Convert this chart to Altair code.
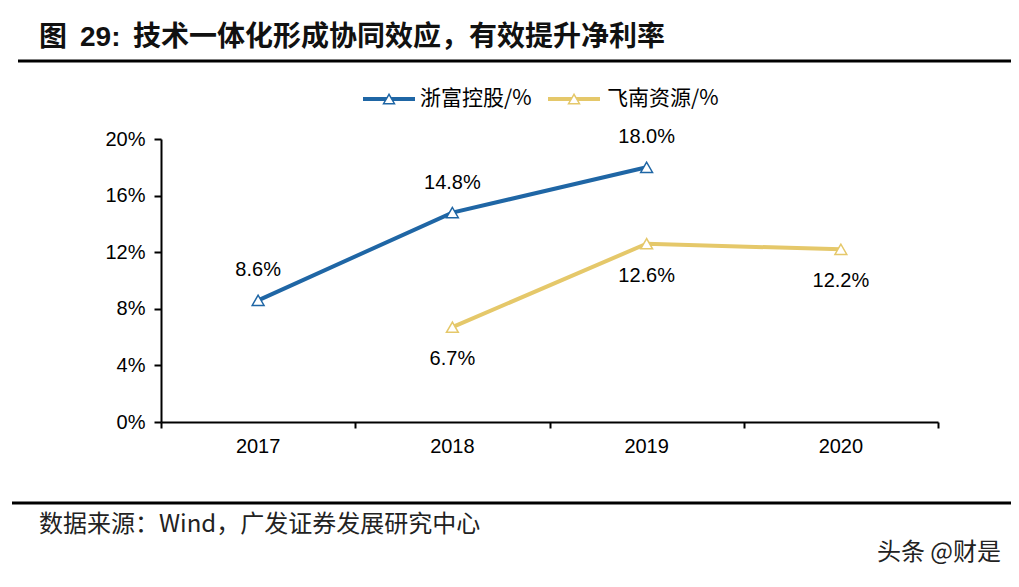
import altair as alt
import pandas as pd

years = [2017, 2018, 2019, 2020]
zhefu = [8.6, 14.8, 18.0, None]
feinan = [None, 6.7, 12.6, 12.2]
series_names = ["浙富控股/%", "飞南资源/%"]
colors = ["#1F66A5", "#E5C86A"]
y_ticks = [0, 4, 8, 12, 16, 20]
x_edges = [2016.5, 2017.5, 2018.5, 2019.5, 2020.5]

W, H = 777, 283
CJK = "Noto Sans CJK SC"
LAT = "Liberation Sans"

rows = []
for s, vals in zip(series_names, [zhefu, feinan]):
    for yr, v in zip(years, vals):
        if v is not None:
            rows.append({"year": yr, "value": v, "series": s, "label": f"{v:.1f}%"})
df = pd.DataFrame(rows)

xs = alt.Scale(domain=[x_edges[0], x_edges[-1]], nice=False, zero=False)
ys = alt.Scale(domain=[0, 20], nice=False)
cs = alt.Scale(domain=series_names, range=colors)

xaxis = alt.Axis(values=x_edges, labels=False, title=None, grid=False, domainColor="black",
                 domainWidth=2, tickColor="black", tickWidth=2, tickSize=6)
yaxis = alt.Axis(values=y_ticks, labelExpr="datum.value + '%'", title=None, grid=False,
                 domainColor="black", domainWidth=2, tickColor="black", tickWidth=2, tickSize=7,
                 labelFont=LAT, labelFontSize=20, labelColor="black", labelPadding=9)

base = alt.Chart(df)

lines = base.mark_line(strokeWidth=4).encode(
    x=alt.X("year:Q", scale=xs, axis=xaxis),
    y=alt.Y("value:Q", scale=ys, axis=yaxis),
    color=alt.Color("series:N", scale=cs, legend=None),
    detail="series:N",
)
points = base.mark_point(shape="triangle-up", filled=True, fill="white", size=140, strokeWidth=1.5, opacity=1).encode(
    x=alt.X("year:Q", scale=xs),
    y=alt.Y("value:Q", scale=ys),
    stroke=alt.Color("series:N", scale=cs, legend=None),
)
lab_blue = alt.Chart(df[df.series == series_names[0]]).mark_text(
    dy=-30, font=LAT, fontSize=20, color="black").encode(
    x=alt.X("year:Q", scale=xs), y=alt.Y("value:Q", scale=ys), text="label:N")
lab_gold = alt.Chart(df[df.series == series_names[1]]).mark_text(
    dy=32, font=LAT, fontSize=20, color="black").encode(
    x=alt.X("year:Q", scale=xs), y=alt.Y("value:Q", scale=ys), text="label:N")

ydf = pd.DataFrame({"year": years, "txt": [str(y) for y in years]})
year_labels = alt.Chart(ydf).mark_text(font=LAT, fontSize=20, color="black", baseline="middle").encode(
    x=alt.X("year:Q", scale=xs), y=alt.value(H + 25), text="txt:N")

one = pd.DataFrame({"a": [0]})

def txt(t, x, y, size, font=CJK, weight="normal", align="left", color="black"):
    return alt.Chart(one).mark_text(text=t, font=font, fontSize=size, fontWeight=weight,
                                    align=align, baseline="middle", color=color).encode(
        x=alt.value(x), y=alt.value(y))

def rule(x1, x2, y, w, color="black"):
    return alt.Chart(one).mark_rule(strokeWidth=w, color=color).encode(
        x=alt.value(x1), x2=alt.value(x2), y=alt.value(y))

def tri(x, y, color):
    return alt.Chart(one).mark_point(shape="triangle-up", filled=True, fill="white", stroke=color,
                                     size=120, strokeWidth=1.5, opacity=1).encode(
        x=alt.value(x), y=alt.value(y))

deco = [
    txt("图", -122, -101, 28, weight="bold", color="#111"),
    txt("29:", -81, -101, 28, font=LAT, weight="bold", color="#111"),
    txt("技术一体化形成协同效应，有效提升净利率", -28, -101, 28, weight="bold", color="#111"),
    rule(-143, 850, -78, 3),
    rule(-149, 850, 364, 3),
    txt("数据来源：Wind，广发证券发展研究中心", -122, 386, 24, color="#222"),
    txt("头条 @财是", 840, 414, 24, color="#222", align="right"),
    rule(202, 254, -40, 4, colors[0]), tri(228, -40, colors[0]),
    txt(series_names[0], 259, -40, 21),
    rule(387, 439, -40, 4, colors[1]), tri(413, -40, colors[1]),
    txt(series_names[1], 446, -40, 21),
]

chart = alt.layer(lines, points, lab_blue, lab_gold, year_labels, *deco).properties(
    width=W, height=H,
    background="white",
    autosize=alt.AutoSizeParams(type="none"),
    padding={"left": 153, "top": 131, "right": 73, "bottom": 157},
).configure_view(strokeWidth=0, stroke="transparent")

chart.save("out.html", embed_options={"renderer": "svg", "actions": False})
